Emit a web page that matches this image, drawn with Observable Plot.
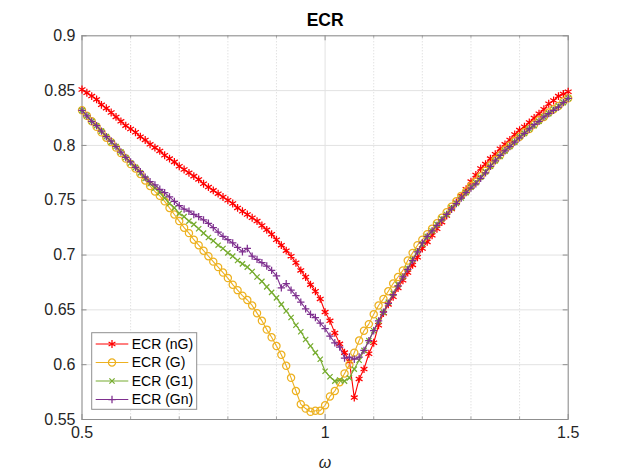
<!DOCTYPE html>
<html><head><meta charset="utf-8">
<script src="https://cdn.jsdelivr.net/npm/d3@7"></script>
<script src="https://cdn.jsdelivr.net/npm/@observablehq/plot@0.6"></script>
<style>
body{margin:0;background:#fff;}
svg{font-family:"Liberation Sans",Arial,Helvetica,sans-serif;}
</style>
</head><body><div id="chart"></div>
<script>
// ---- data ----
const omegaStart = 0.5, omegaStep = 0.01;
const ecrNG = [
0.851,0.848,0.845,0.842,0.837,0.834,0.830,0.826,0.822,0.818,
0.815,0.812,0.808,0.805,0.801,0.798,0.795,0.791,0.788,0.785,
0.781,0.778,0.775,0.772,0.769,0.765,0.762,0.759,0.756,0.753,
0.750,0.747,0.743,0.740,0.737,0.734,0.731,0.727,0.723,0.719,
0.714,0.709,0.704,0.699,0.693,0.686,0.680,0.673,0.667,0.660,
0.648,0.640,0.629,0.619,0.611,0.603,0.570,0.587,0.596,0.610,
0.620,0.636,0.647,0.655,0.662,0.670,0.677,0.684,0.691,0.698,
0.706,0.712,0.718,0.724,0.730,0.736,0.742,0.748,0.754,0.760,
0.767,0.773,0.779,0.783,0.788,0.792,0.797,0.801,0.805,0.810,
0.814,0.817,0.821,0.825,0.829,0.833,0.838,0.841,0.845,0.847,
0.849];
const ecrG = [
0.832,0.827,0.822,0.817,0.812,0.807,0.803,0.798,0.793,0.788,
0.783,0.779,0.774,0.768,0.763,0.758,0.754,0.749,0.743,0.737,
0.731,0.725,0.720,0.714,0.709,0.704,0.699,0.694,0.689,0.684,
0.679,0.673,0.668,0.663,0.659,0.654,0.647,0.640,0.632,0.625,
0.617,0.609,0.599,0.588,0.576,0.564,0.560,0.557,0.558,0.558,
0.563,0.571,0.576,0.584,0.592,0.600,0.611,0.622,0.631,0.637,
0.646,0.654,0.660,0.667,0.674,0.680,0.686,0.695,0.702,0.709,
0.714,0.719,0.724,0.729,0.734,0.739,0.744,0.749,0.754,0.758,
0.763,0.767,0.772,0.777,0.782,0.787,0.791,0.796,0.800,0.804,
0.808,0.812,0.815,0.819,0.823,0.826,0.830,0.833,0.836,0.840,
0.843];
const ecrG1 = [
0.832,0.827,0.822,0.818,0.813,0.808,0.803,0.799,0.794,0.789,
0.784,0.780,0.775,0.770,0.765,0.761,0.757,0.752,0.747,0.743,
0.738,0.735,0.731,0.728,0.724,0.720,0.716,0.713,0.709,0.706,
0.702,0.699,0.695,0.692,0.689,0.685,0.680,0.676,0.671,0.666,
0.661,0.655,0.649,0.643,0.636,0.630,0.623,0.617,0.611,0.605,
0.594,0.589,0.585,0.586,0.585,0.588,0.596,0.604,0.613,0.622,
0.631,0.640,0.648,0.657,0.665,0.673,0.680,0.688,0.696,0.703,
0.710,0.717,0.722,0.728,0.733,0.737,0.743,0.747,0.752,0.757,
0.762,0.766,0.771,0.776,0.781,0.786,0.790,0.795,0.799,0.803,
0.808,0.811,0.815,0.818,0.822,0.826,0.829,0.833,0.836,0.839,
0.843];
const ecrGn = [
0.832,0.827,0.822,0.818,0.813,0.808,0.804,0.799,0.794,0.789,
0.785,0.780,0.776,0.771,0.767,0.764,0.760,0.757,0.753,0.749,
0.745,0.742,0.740,0.737,0.735,0.732,0.729,0.725,0.721,0.717,
0.714,0.711,0.707,0.703,0.706,0.699,0.696,0.693,0.690,0.686,
0.681,0.670,0.674,0.668,0.663,0.657,0.651,0.646,0.643,0.638,
0.633,0.626,0.620,0.616,0.606,0.607,0.605,0.607,0.613,0.622,
0.631,0.640,0.648,0.656,0.664,0.672,0.680,0.687,0.695,0.703,
0.711,0.717,0.722,0.727,0.732,0.737,0.742,0.747,0.752,0.757,
0.761,0.765,0.770,0.775,0.781,0.786,0.791,0.795,0.799,0.803,
0.807,0.811,0.815,0.819,0.822,0.826,0.829,0.832,0.835,0.839,
0.843];

const seriesNames   = ["ECR (nG)", "ECR (G)", "ECR (G1)", "ECR (Gn)"];
const seriesColors  = ["#ff0000", "#edb120", "#77ac30", "#7e2f8e"];
const seriesSymbols = ["asterisk", "circle", "times", "plus"];
const seriesR       = [3.7, 3.6, 2.5, 2.5];

const xTicks = [0.5, 1, 1.5];
const xTickLabels = ["0.5", "1", "1.5"];
const xMinorTicks = [0.6, 0.7, 0.8, 0.9, 1.1, 1.2, 1.3, 1.4];
const yTicks = [0.55, 0.6, 0.65, 0.7, 0.75, 0.8, 0.85, 0.9];
const yTickLabels = ["0.55", "0.6", "0.65", "0.7", "0.75", "0.8", "0.85", "0.9"];
const titleText = "ECR";
const xLabelText = "ω";

// ---- build ----
const omega = ecrNG.map((_, i) => +(omegaStart + i * omegaStep).toFixed(2));
const allSeries = [ecrNG, ecrG, ecrG1, ecrGn];
const rows = [];
allSeries.forEach((arr, k) => arr.forEach((v, i) => rows.push({k, omega: omega[i], ecr: v})));

const W = 628, H = 471, mL = 81.5, mR = 60.3, mT = 35.3, mB = 52;
const innerW = W - mL - mR, innerH = H - mT - mB;
const tickLen = 5, minorLen = 2.5;
const axisColor = "#262626";
const frameColor = "#8f8f8f";

const seriesMarks = [];
allSeries.forEach((_, k) => {
  const d = rows.filter(r => r.k === k);
  seriesMarks.push(Plot.line(d, {x: "omega", y: "ecr", stroke: seriesColors[k], strokeWidth: 1.1}));
  seriesMarks.push(Plot.dot(d, {x: "omega", y: "ecr", symbol: () => seriesSymbols[k], r: seriesR[k],
    stroke: seriesColors[k], fill: "none", strokeWidth: 1.25}));
});

const chart = Plot.plot({
  width: W, height: H,
  marginLeft: mL, marginRight: mR, marginTop: mT, marginBottom: mB,
  style: {background: "#fff", fontFamily: "'Liberation Sans', Arial, Helvetica, sans-serif"},
  x: {domain: [0.5, 1.5]},
  y: {domain: [0.55, 0.9]},
  symbol: {type: "identity"},
  marks: [
    Plot.ruleX(xMinorTicks, {x: d => d, stroke: "#c4c4c4", strokeWidth: 0.7, strokeDasharray: "1,2"}),
    Plot.ruleX(xTicks, {x: d => d, stroke: "#e2e2e2", strokeWidth: 1}),
    Plot.ruleY(yTicks, {y: d => d, stroke: "#e2e2e2", strokeWidth: 1}),
    Plot.frame({stroke: frameColor, strokeWidth: 1}),
    Plot.tickY(yTicks, {y: d => d, insetRight: innerW - tickLen, stroke: frameColor, strokeWidth: 1}),
    Plot.tickY(yTicks, {y: d => d, insetLeft: innerW - tickLen, stroke: frameColor, strokeWidth: 1}),
    Plot.tickX(xTicks, {x: d => d, insetTop: innerH - tickLen, stroke: frameColor, strokeWidth: 1}),
    Plot.tickX(xTicks, {x: d => d, insetBottom: innerH - tickLen, stroke: frameColor, strokeWidth: 1}),
    Plot.tickX(xMinorTicks, {x: d => d, insetTop: innerH - minorLen, stroke: frameColor, strokeWidth: 0.8}),
    Plot.tickX(xMinorTicks, {x: d => d, insetBottom: innerH - minorLen, stroke: frameColor, strokeWidth: 0.8}),
    Plot.axisY(yTicks, {tickSize: 0, tickPadding: 6.5, fontSize: 16, color: axisColor, label: null,
      tickFormat: d => yTickLabels[yTicks.indexOf(d)]}),
    Plot.axisX(xTicks, {tickSize: 0, tickPadding: 7, fontSize: 16, color: axisColor, label: null,
      tickFormat: d => xTickLabels[xTicks.indexOf(d)]}),
    ...seriesMarks,
    Plot.text([titleText], {text: d => d, frameAnchor: "top", lineAnchor: "middle", dy: -15, fontSize: 17.5, fontWeight: "bold", fill: "#000"}),
    Plot.text([xLabelText], {text: d => d, frameAnchor: "bottom", lineAnchor: "middle", dy: 43, fontSize: 16, fontStyle: "italic", fill: axisColor})
  ]
});
document.getElementById("chart").appendChild(chart);

// ---- legend ----
const svg = d3.select(chart);
const lg = svg.append("g").attr("text-anchor", "start");
const lx = 91.7, ly = 332.7, lw = 105, lh = 76.6, rowH = 18.5, row0 = 344;
lg.append("rect").attr("x", lx).attr("y", ly).attr("width", lw).attr("height", lh)
  .attr("fill", "#fff").attr("stroke", frameColor).attr("stroke-width", 1);
const d3Sym = {asterisk: d3.symbolAsterisk, circle: d3.symbolCircle, times: d3.symbolTimes, plus: d3.symbolPlus};
seriesNames.forEach((name, k) => {
  const y = row0 + k * rowH;
  lg.append("line").attr("x1", 95.7).attr("x2", 128.3).attr("y1", y).attr("y2", y)
    .attr("stroke", seriesColors[k]).attr("stroke-width", 1.1);
  lg.append("path").attr("transform", `translate(112,${y})`)
    .attr("d", d3.symbol(d3Sym[seriesSymbols[k]], Math.PI * seriesR[k] * seriesR[k])())
    .attr("fill", "none").attr("stroke", seriesColors[k]).attr("stroke-width", 1.25);
  lg.append("text").attr("x", 131.7).attr("y", y).attr("dy", "0.35em")
    .attr("font-size", 14).attr("fill", "#000").attr("text-anchor", "start").text(name);
});
</script>
</body></html>
